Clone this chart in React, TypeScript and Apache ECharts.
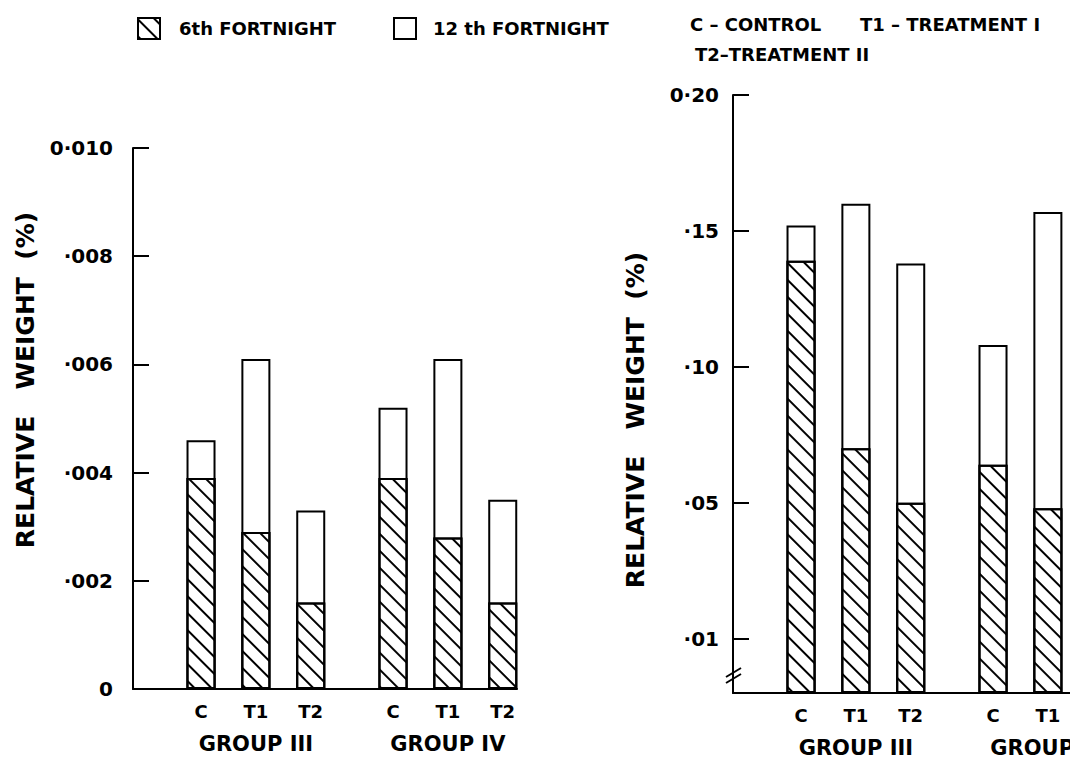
import React, { useEffect, useRef } from 'react';
import * as echarts from 'echarts';

const itemLabels = ['C', 'T1', 'T2', 'C', 'T1', 'T2'];
const groupLabels = ['GROUP III', 'GROUP IV'];
const seriesNames = ['6th FORTNIGHT', '12 th FORTNIGHT'];

const leftSixth = [0.0039, 0.0029, 0.0016, 0.0039, 0.0028, 0.0016];
const leftTwelfth = [0.0046, 0.0061, 0.0033, 0.0052, 0.0061, 0.0035];
const rightSixth = [0.139, 0.07, 0.05, 0.064, 0.048];
const rightTwelfth = [0.152, 0.16, 0.138, 0.108, 0.157];

const leftTickValues = [0, 0.002, 0.004, 0.006, 0.008, 0.01];
const leftTickLabels = ['0', '·002', '·004', '·006', '·008', '0·010'];
const rightTickValues = [0, 0.05, 0.1, 0.15, 0.2];
const rightTickLabels = ['·01', '·05', '·10', '·15', '0·20'];

const axisName = 'RELATIVE   WEIGHT  (%)';
const noteControl = 'C – CONTROL';
const noteT1 = 'T1 – TREATMENT I';
const noteT2 = 'T2–TREATMENT II';

const FONT = "'DejaVu Sans', 'Liberation Sans', sans-serif";

const xPos = (i: number) => Math.floor(i / 3) * 3.5 + (i % 3) + 1;
const groupPos = (g: number) => g * 3.5 + 2;

const hatch = {
  symbol: 'rect',
  symbolSize: 1,
  color: '#000',
  dashArrayX: [1, 0],
  dashArrayY: [2, 10],
  rotation: Math.PI / 4,
};

function findIdx(list: number[], v: number) {
  return list.findIndex((p) => Math.abs(p - v) < 1e-7);
}

export default function App() {
  const ref = useRef<HTMLDivElement>(null);
  useEffect(() => {
    if (!ref.current) return;
    const chart = echarts.init(ref.current, null, { renderer: 'svg' });

    const leftXVals = itemLabels.map((_, i) => xPos(i));
    const rightXVals = rightTwelfth.map((_, i) => xPos(i));
    const groupVals = groupLabels.map((_, g) => groupPos(g));

    const itemAxis = (vals: number[], gridIndex: number) => ({
      type: 'value',
      gridIndex,
      position: 'bottom',
      min: -0.24,
      max: 6.76,
      splitLine: { show: false },
      axisTick: { show: false },
      axisLine: { show: true, onZero: false, lineStyle: { color: '#000', width: 2 } },
      axisLabel: {
        customValues: vals,
        hideOverlap: false,
        margin: 13,
        color: '#000',
        fontFamily: FONT,
        fontSize: 18,
        fontWeight: 'bold',
        formatter: (v: number) => {
          const idx = findIdx(vals, v);
          return idx < 0 ? '' : itemLabels[idx];
        },
      },
    });

    const groupAxis = (gridIndex: number) => ({
      type: 'value',
      gridIndex,
      position: 'bottom',
      offset: 0,
      min: -0.24,
      max: 6.76,
      splitLine: { show: false },
      axisTick: { show: false },
      axisLine: { show: false, onZero: false },
      axisLabel: {
        customValues: groupVals,
        hideOverlap: false,
        margin: 44,
        color: '#000',
        fontFamily: FONT,
        fontSize: 21,
        fontWeight: 'bold',
        formatter: (v: number) => {
          const idx = findIdx(groupVals, v);
          return idx < 0 ? '' : groupLabels[idx];
        },
      },
    });

    const yAxisBase = {
      type: 'value',
      splitLine: { show: false },
      axisLine: { show: true, onZero: false, lineStyle: { color: '#000', width: 2 } },
      axisTick: { show: true, inside: true, length: 16, lineStyle: { color: '#000', width: 2 } },
    };

    const barStyle = { color: '#fff', borderColor: '#000', borderWidth: 2 };
    const legendText = { fontFamily: FONT, fontSize: 18, fontWeight: 'bold', color: '#000' };
    const noteStyle = { fontFamily: FONT, fontSize: 18, fontWeight: 'bold', fill: '#000' };
    const nameStyle = {
      text: axisName,
      fontFamily: FONT,
      fontSize: 25,
      fontWeight: 'bold',
      fill: '#000',
      align: 'center',
      verticalAlign: 'middle',
    };

    const option: any = {
      animation: false,
      backgroundColor: '#fff',
      legend: [
        {
          data: [seriesNames[0]],
          left: 132,
          top: 12,
          icon: 'rect',
          itemWidth: 22,
          itemHeight: 21,
          itemStyle: { borderColor: '#000', borderWidth: 2 },
          textStyle: { ...legendText, padding: [0, 0, 0, 14] },
          selectedMode: false,
        },
        {
          data: [seriesNames[1]],
          left: 388,
          top: 12,
          icon: 'rect',
          itemWidth: 22,
          itemHeight: 21,
          itemStyle: { borderColor: '#000', borderWidth: 2 },
          textStyle: { ...legendText, padding: [0, 0, 0, 12] },
          selectedMode: false,
        },
      ],
      grid: [
        { left: 133, top: 148, width: 384, height: 541 },
        { left: 733, top: 95, width: 384, height: 598 },
      ],
      xAxis: [
        itemAxis(leftXVals, 0),
        itemAxis(rightXVals, 1),
        groupAxis(0),
        groupAxis(1),
      ],
      yAxis: [
        {
          ...yAxisBase,
          gridIndex: 0,
          min: 0,
          max: 0.01,
          interval: 0.002,
          axisLabel: {
            margin: 20,
            color: '#000',
            fontFamily: FONT,
            fontSize: 20,
            fontWeight: 'bold',
            formatter: (v: number) => {
              const idx = findIdx(leftTickValues, v);
              return idx < 0 ? '' : leftTickLabels[idx];
            },
          },
        },
        {
          ...yAxisBase,
          gridIndex: 1,
          min: -0.02,
          max: 0.2,
          startValue: -0.02,
          axisTick: { ...yAxisBase.axisTick, customValues: rightTickValues },
          axisLabel: {
            customValues: rightTickValues,
            margin: 14,
            color: '#000',
            fontFamily: FONT,
            fontSize: 20,
            fontWeight: 'bold',
            formatter: (v: number) => {
              const idx = findIdx(rightTickValues, v);
              return idx < 0 ? '' : rightTickLabels[idx];
            },
          },
        },
      ],
      series: [
        {
          type: 'bar',
          name: seriesNames[1],
          xAxisIndex: 0,
          yAxisIndex: 0,
          barWidth: 29,
          barGap: '-100%',
          itemStyle: barStyle,
          data: leftTwelfth.map((v, i) => [xPos(i), v]),
        },
        {
          type: 'bar',
          name: seriesNames[0],
          xAxisIndex: 0,
          yAxisIndex: 0,
          barWidth: 29,
          barGap: '-100%',
          itemStyle: { ...barStyle, decal: hatch },
          data: leftSixth.map((v, i) => [xPos(i), v]),
        },
        {
          type: 'bar',
          name: seriesNames[1],
          xAxisIndex: 1,
          yAxisIndex: 1,
          barWidth: 29,
          barGap: '-100%',
          itemStyle: barStyle,
          data: rightTwelfth.map((v, i) => [xPos(i), v]),
        },
        {
          type: 'bar',
          name: seriesNames[0],
          xAxisIndex: 1,
          yAxisIndex: 1,
          barWidth: 29,
          barGap: '-100%',
          itemStyle: { ...barStyle, decal: hatch },
          data: rightSixth.map((v, i) => [xPos(i), v]),
        },
      ],
      graphic: [
        { type: 'text', left: 690, top: 15, style: { ...noteStyle, text: noteControl } },
        { type: 'text', left: 860, top: 15, style: { ...noteStyle, text: noteT1 } },
        { type: 'text', left: 695, top: 45, style: { ...noteStyle, text: noteT2 } },
        { type: 'text', x: 25, y: 380, rotation: Math.PI / 2, style: nameStyle },
        { type: 'text', x: 635, y: 420, rotation: Math.PI / 2, style: nameStyle },
        { type: 'line', shape: { x1: 726, y1: 683, x2: 741, y2: 674 }, style: { stroke: '#000', lineWidth: 2 } },
        { type: 'line', shape: { x1: 726, y1: 677, x2: 741, y2: 668 }, style: { stroke: '#000', lineWidth: 2 } },
      ],
    };

    chart.setOption(option);
    return () => chart.dispose();
  }, []);

  return (
    <div style={{ position: 'fixed', left: 0, top: 0, width: 1070, height: 762, overflow: 'hidden', background: '#fff' }}>
      <div ref={ref} style={{ width: 1200, height: 762 }} />
    </div>
  );
}
